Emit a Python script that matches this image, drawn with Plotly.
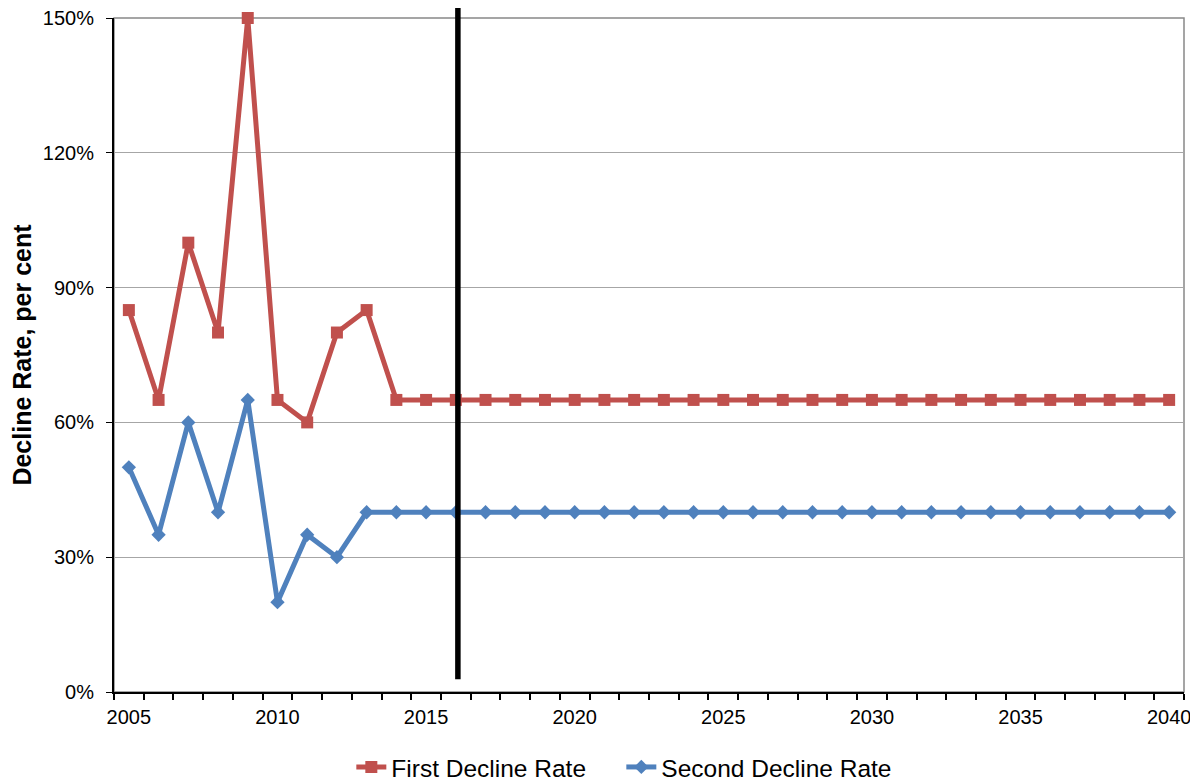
import plotly.graph_objects as go

years = list(range(2005, 2041))
first_rate = [85, 65, 100, 80, 150, 65, 60, 80, 85] + [65] * 27
second_rate = [50, 35, 60, 40, 65, 20, 35, 30, 40] + [40] * 27
tick_years = [2005, 2010, 2015, 2020, 2025, 2030, 2035, 2040]
marker_year = 2016

fig = go.Figure()
fig.add_trace(go.Scatter(
    x=years, y=[v / 100 for v in first_rate], name="First Decline Rate",
    mode="lines+markers", cliponaxis=False,
    line=dict(color="#C0504D", width=5),
    marker=dict(symbol="square", size=12, color="#C0504D"),
))
fig.add_trace(go.Scatter(
    x=years, y=[v / 100 for v in second_rate], name="Second Decline Rate",
    mode="lines+markers", cliponaxis=False,
    line=dict(color="#4F81BD", width=5),
    marker=dict(symbol="diamond", size=11, color="#4F81BD"),
))

fig.add_shape(type="rect", xref="paper", yref="paper", x0=0, x1=1, y0=0, y1=1,
              line=dict(color="#888888", width=1.5), layer="below")
fig.add_shape(type="line", xref="x", yref="paper", x0=marker_year + 0.07, x1=marker_year + 0.07,
              y0=0.019, y1=1.015, line=dict(color="black", width=5.5))

# page body has an 8px margin, so the figure is 8px smaller and margins shifted
fig.update_layout(
    width=1190, height=773,
    margin=dict(l=106, r=14, t=10, b=89, autoexpand=False),
    paper_bgcolor="white", plot_bgcolor="white",
    font=dict(family="Liberation Sans, Arial", size=20, color="black"),
    showlegend=True,
    legend=dict(orientation="h", x=0.2218, xanchor="left", y=-0.1113, yanchor="middle",
                font=dict(size=24.5), entrywidth=225, entrywidthmode="pixels",
                tracegroupgap=0, bgcolor="rgba(0,0,0,0)"),
    xaxis=dict(
        range=[2004.5, 2040.5], automargin=False,
        tickmode="array", tickvals=tick_years, ticktext=[str(t) for t in tick_years],
        ticks="", showgrid=False, zeroline=False, ticklabeloverflow="allow",
        showline=True, linecolor="black", linewidth=2,
        tickfont=dict(size=20), ticklabelstandoff=6,
        minor=dict(ticks="outside", tick0=2004.5, dtick=1, ticklen=6, tickcolor="black",
                   tickwidth=1.5, showgrid=False),
    ),
    yaxis=dict(
        range=[0, 1.5], automargin=False, tickmode="array", tickvals=[0, 0.3, 0.6, 0.9, 1.2, 1.5],
        tickformat=".0%", ticks="outside", ticklen=6, tickcolor="black",
        ticklabeloverflow="allow",
        showgrid=True, gridcolor="#A6A6A6", gridwidth=1, zeroline=False,
        showline=True, linecolor="black", linewidth=2,
        title=dict(text="<b>Decline Rate, per cent</b>", font=dict(size=25), standoff=14),
        tickfont=dict(size=20), ticklabelstandoff=8,
    ),
)

fig.write_html("out.html")
